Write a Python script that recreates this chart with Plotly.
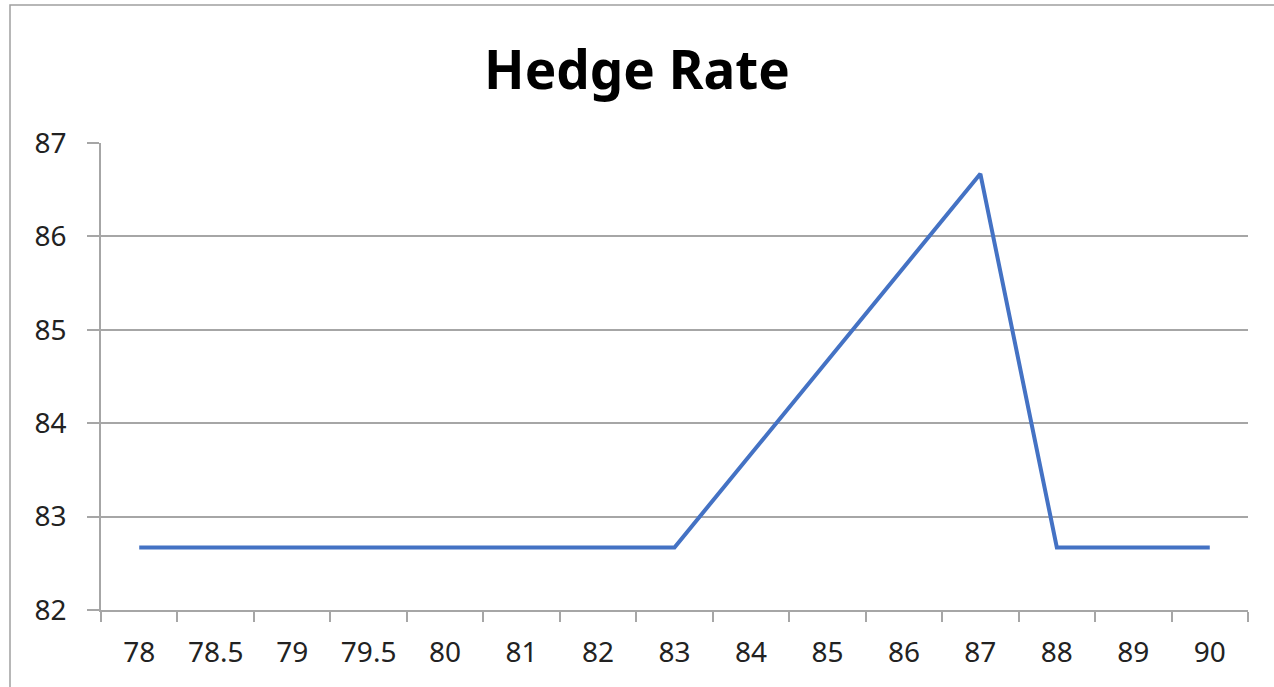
import plotly.graph_objects as go

categorias = ["78", "78.5", "79", "79.5", "80", "81", "82", "83",
              "84", "85", "86", "87", "88", "89", "90"]
hedge_rate = [82.67, 82.67, 82.67, 82.67, 82.67, 82.67, 82.67, 82.67,
              83.67, 84.67, 85.67, 86.67, 82.67, 82.67, 82.67]
y_ticks = [82, 83, 84, 85, 86, 87]

W, H = 1274, 687
L, R, T, B = 101, 26, 143, 77
pw, ph = W - L - R, H - T - B

def px_x(x):
    return (x - L) / pw

def px_y(y):
    return (H - B - y) / ph

fig = go.Figure()
fig.add_trace(go.Scatter(
    x=categorias, y=hedge_rate, mode="lines",
    line=dict(color="#4472C4", width=4),
    hoverinfo="x+y", showlegend=False,
))

fig.update_layout(
    width=W, height=H,
    margin=dict(l=L, r=R, t=T, b=B),
    paper_bgcolor="white", plot_bgcolor="white",
    font=dict(family="Noto Sans, Open Sans, sans-serif", color="#222222"),
    title=dict(text="<b>Hedge Rate</b>", x=0.5, xanchor="center",
               yref="container", y=1 - 70 / H, yanchor="middle",
               font=dict(size=53, color="black")),
    # borda do gráfico (direita e base ficam fora da imagem)
    shapes=[dict(type="rect", xref="paper", yref="paper",
                 x0=px_x(10), x1=px_x(1300), y0=px_y(700), y1=px_y(5),
                 line=dict(color="#a0a0a0", width=1.5), layer="below")],
)

fig.update_xaxes(
    type="category", range=[-0.5, len(categorias) - 0.5],
    showgrid=False, showline=True, linecolor="#a6a6a6", linewidth=1.5,
    ticks="outside", tickson="boundaries", ticklen=10, tickcolor="#a6a6a6",
    tickwidth=1.5, tickfont=dict(size=28), ticklabelstandoff=17,
)
fig.update_yaxes(
    range=[82, 87], tickvals=y_ticks,
    showgrid=True, gridcolor="#a6a6a6", gridwidth=1.5,
    showline=True, linecolor="#a6a6a6", linewidth=1.5,
    ticks="outside", ticklen=12, tickcolor="#a6a6a6", tickwidth=1.5,
    tickfont=dict(size=28), ticklabelstandoff=15, zeroline=False,
)

# sem margem no body, para a figura começar em (0, 0)
fig.write_html("out.html", config={"displayModeBar": False},
               post_script="document.body.style.margin='0';"
                           "document.body.style.overflow='hidden';")
